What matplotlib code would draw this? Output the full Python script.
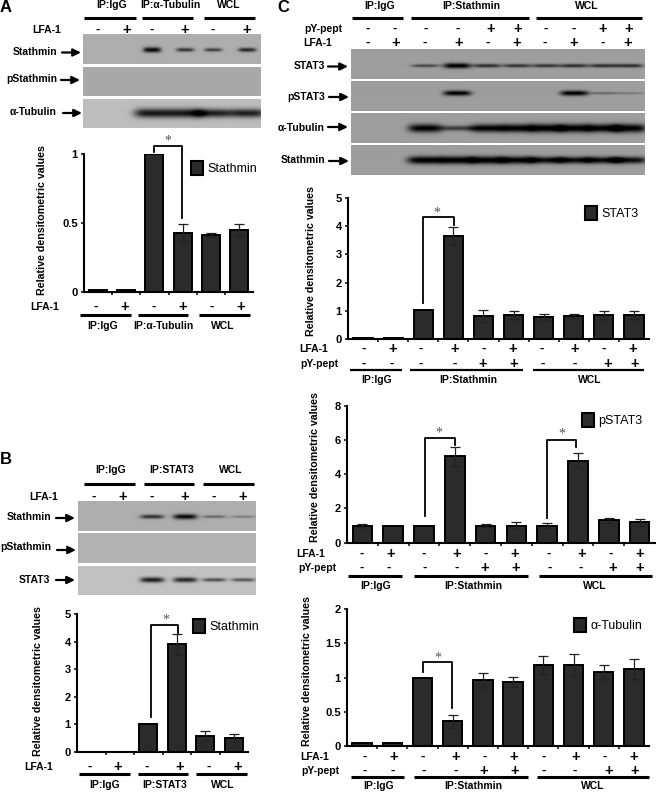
import numpy as np
import matplotlib
matplotlib.use('Agg')
import matplotlib.pyplot as plt
from matplotlib.patches import Patch

plt.rcParams['font.family'] = ['Liberation Sans', 'DejaVu Sans']

W, H = 656, 792

# bar values
a_vals = [0.01, 0.01, 1, 0.43, 0.41, 0.45]
a_errs = [0, 0, 0, 0.06, 0.015, 0.045]
b_vals = [0, 0, 1, 3.9, 0.58, 0.5]
b_errs = [0, 0, 0, 0.38, 0.17, 0.14]
c1_vals = [0.03, 0.03, 1.02, 3.65, 0.82, 0.85, 0.78, 0.82, 0.85, 0.85]
c1_errs = [0, 0, 0, 0.33, 0.2, 0.13, 0.12, 0.08, 0.13, 0.13]
c2_vals = [1, 1, 1, 5.05, 1, 1, 1, 4.8, 1.3, 1.2]
c2_errs = [0.1, 0, 0, 0.55, 0.1, 0.2, 0.17, 0.45, 0.15, 0.2]
c3_vals = [0.05, 0.05, 1, 0.36, 0.97, 0.94, 1.18, 1.19, 1.08, 1.13]
c3_errs = [0, 0, 0, 0.1, 0.1, 0.07, 0.13, 0.16, 0.1, 0.15]

# band strength per lane on the blots
a_stathmin = [0, 0, 1, 0.55, 0.45, 0.65]
a_pstathmin = [0, 0, 0, 0, 0, 0]
a_tubulin = [0, 0, 1, 1, 0.9, 0.9]
b_stathmin = [0, 0, 0.6, 1, 0.2, 0.1]
b_pstathmin = [0, 0, 0, 0, 0, 0]
b_stat3 = [0, 0, 1, 0.9, 0.5, 0.45]
c_stat3 = [0, 0, 0.3, 1, 0.5, 0.45, 0.45, 0.5, 0.5, 0.5]
c_pstat3 = [0, 0, 0, 0.95, 0, 0, 0, 0.95, 0.12, 0.06]
c_tubulin = [0, 0, 0.95, 0.35, 0.9, 0.95, 1, 1, 0.95, 1]
c_stathmin = [0, 0, 1, 1, 1, 0.95, 0.8, 0.8, 0.8, 0.8]

lfa_short = ['-', '+', '-', '+', '-', '+']
lfa_long = ['-', '+', '-', '+', '-', '+', '-', '+', '-', '+']
pep_long = ['-', '-', '-', '-', '+', '+', '-', '-', '+', '+']

fig = plt.figure(figsize=(W / 100, H / 100), dpi=100, facecolor='white')

# overlay in pixel coordinates for the labels around the charts
ov = fig.add_axes([0, 0, 1, 1], zorder=5)
ov.set_xlim(0, W)
ov.set_ylim(H, 0)
ov.axis('off')


def txt(x, y, s, ha='center', size=7.5, weight='bold', **kw):
    ov.text(x, y, s, ha=ha, va='center', fontsize=size, fontweight=weight, **kw)


def signs(xs, y, vals, scale=1 / 3, off=0):
    for x, v in zip(xs, vals):
        txt(x * scale + off, y, v, size=10.5 if v == '+' else 9.5)


def arrow(x0, x1, y):
    ov.annotate('', xy=(x1, y), xytext=(x0, y),
                arrowprops=dict(arrowstyle='-|>,head_width=0.22,head_length=0.45',
                                lw=1.6, color='black', shrinkA=0, shrinkB=0))


def rule(x0, x1, y, lw=2.2):
    ov.plot([x0, x1], [y, y], color='black', lw=lw, solid_capstyle='butt')


def bracket(x0, y0, y1, x1, y2, sx, sy):
    ov.plot([x0, x0, x1, x1], [y0, y1, y1, y2], color='black', lw=1.3)
    ov.text(sx, sy, '*', ha='center', va='center', fontsize=10,
            family='Liberation Serif', color='#555555')


def blot(x0, x1, y0, y1, lanes, vals, bg=0.68, bw=9.0, bh=2.6, yc=0.5):
    xx = np.arange(x0, x1, 0.5)
    yy = np.arange(y0, y1, 0.5)
    img = np.full((len(yy), len(xx)), bg)
    for lane, v in zip(lanes, vals):
        if v == 0:
            continue
        gx = np.exp(-(np.abs(xx - lane) / bw) ** 4)
        gy = np.exp(-((yy - (y0 + yc * (y1 - y0))) / (bh * (0.4 + 0.6 * v))) ** 2)
        img -= np.sqrt(v) * 0.66 * np.outer(gy, gx)
    ov.imshow(np.clip(img, 0, 1), cmap='gray', vmin=0, vmax=1, aspect='auto',
              extent=[x0, x1, y1, y0], interpolation='bilinear')


def chart(x0, x1, y0, y1, vals, errs, ymax, ticks, ticklabs, name, leg_x, leg_y, lab_x, lab_y):
    ax = fig.add_axes([x0 / W, 1 - y0 / H, (x1 - x0) / W, (y0 - y1) / H], zorder=3)
    pos = np.arange(len(vals))
    ax.bar(pos, vals, width=0.64, color='#2b2b2b', edgecolor='black', linewidth=1.4)
    ax.errorbar(pos, vals, yerr=[e if e else np.nan for e in errs], fmt='none',
                ecolor='#222222', elinewidth=0.9, capsize=3.5, capthick=0.9)
    ax.set_xlim(-0.5, len(vals) - 0.5)
    ax.set_ylim(0, ymax)
    ax.set_xticks(pos[:-1] + 0.5)
    ax.set_xticklabels([])
    ax.set_yticks(ticks)
    ax.set_yticklabels(ticklabs, fontsize=8, fontweight='bold')
    ax.tick_params(axis='both', length=2.5, width=1.1, pad=2)
    ax.patch.set_alpha(0)
    for s in ['top', 'right']:
        ax.spines[s].set_visible(False)
    for s in ['left', 'bottom']:
        ax.spines[s].set_linewidth(1.5)
    ax.set_ylabel('Relative densitometric values', fontsize=7.7, fontweight='bold')
    ax.yaxis.set_label_coords(lab_x, lab_y, transform=ov.transData)
    ax.legend(handles=[Patch(facecolor='#2b2b2b', edgecolor='black', linewidth=1.5, label=name)],
              loc='center left', bbox_to_anchor=(leg_x, leg_y), bbox_transform=ov.transData,
              frameon=False, fontsize=9, handlelength=0.95, handleheight=1.4,
              handletextpad=0.35, borderpad=0, borderaxespad=0)
    return ax


# Panel A
txt(0, 7, 'A', ha='left', size=12)
txt(112, 5, 'IP:IgG')
txt(170, 5, 'IP:α-Tubulin')
txt(229, 5, 'WCL')
rule(84, 136, 17.5)
rule(142, 193, 17.5)
rule(204, 255, 17.5)
txt(61, 30, 'LFA-1', ha='right')
a_lanes = [98, 127, 152, 185, 213, 247]
signs(a_lanes, 30, lfa_short, scale=1)
blot(83, 261, 35, 64.5, a_lanes, a_stathmin, yc=0.52)
blot(83, 261, 67, 96, a_lanes, a_pstathmin, bg=0.66)
blot(83, 261, 99, 128, a_lanes, a_tubulin, bw=18, bh=4.6, yc=0.48, bg=0.74)
txt(57, 52, 'Stathmin', ha='right')
arrow(62, 81, 52.5)
txt(57, 79, 'pStathmin', ha='right')
arrow(61, 80, 80)
txt(57, 112, 'α-Tubulin', ha='right')
arrow(63, 82, 113)
chart(84, 253, 291.7, 154.3, a_vals, a_errs, 1, [0, 0.5, 1], ['0', '0.5', '1'],
      'Stathmin', 191, 168, 47, 220)
bracket(154, 152, 146, 182, 218, 168, 141)
txt(59, 307, 'LFA-1', ha='right')
signs([288, 375, 461, 548, 635, 722], 307, lfa_short)
rule(80, 131, 315)
rule(138, 188, 315)
rule(199, 250, 315)
txt(103, 326, 'IP:IgG')
txt(163, 326, 'IP:α-Tubulin')
txt(223, 326, 'WCL')

# Panel B
txt(0, 460, 'B', ha='left', size=12)
txt(111, 470, 'IP:IgG')
txt(172, 470, 'IP:STAT3')
txt(231, 470, 'WCL')
rule(84, 135, 484)
rule(144, 194, 484)
rule(203, 254, 484)
txt(58, 497, 'LFA-1', ha='right')
b_lanes = [94, 123, 152, 185, 214, 243]
signs(b_lanes, 497, lfa_short, scale=1)
blot(78, 256, 501, 530.7, b_lanes, b_stathmin, yc=0.52, bw=12)
blot(78, 256, 533, 563, b_lanes, b_pstathmin, bg=0.70)
blot(78, 256, 566, 595, b_lanes, b_stat3, yc=0.47, bw=12, bg=0.76)
txt(51, 517, 'Stathmin', ha='right')
arrow(56, 75, 518)
txt(51, 547, 'pStathmin', ha='right')
arrow(57, 76, 550)
txt(50, 580, 'STAT3', ha='right')
arrow(56, 75, 580)
chart(77, 248, 752, 614, b_vals, b_errs, 5, [0, 1, 2, 3, 4, 5], ['0', '1', '2', '3', '4', '5'],
      'Stathmin', 193, 626, 43, 681)
bracket(151, 717, 625, 178, 633, 166, 620)
txt(53, 767, 'LFA-1', ha='right')
signs([268, 353, 440, 540, 627, 714], 767, lfa_short)
rule(79, 130, 774)
rule(138, 188, 774)
rule(196, 247, 774)
txt(105, 785, 'IP:IgG')
txt(165, 785, 'IP:STAT3')
txt(223, 785, 'WCL')

# Panel C blots
txt(277, 7, 'C', ha='left', size=12)
txt(380, 6, 'IP:IgG')
txt(471, 6, 'IP:Stathmin')
txt(587, 6, 'WCL')
rule(352, 403, 18)
rule(411, 529, 18)
rule(536, 642, 18)
txt(342, 29, 'pY-pept', ha='right')
txt(332, 43, 'LFA-1', ha='right')
signs([232, 315, 407, 503, 603, 683, 768, 850, 937, 1015], 29, pep_long, off=290)
signs([232, 318, 405, 505, 592, 680, 765, 852, 937, 1013], 43, lfa_long, off=290)
c_lanes = [367, 395, 425, 457, 487, 517, 546, 574, 603, 629]
blot(351, 645, 49, 79, c_lanes, c_stat3, bg=0.62, bw=14, yc=0.55)
blot(351, 645, 81.7, 111, c_lanes, c_pstat3, bg=0.62, bw=14, yc=0.4)
blot(351, 645, 113, 143, c_lanes, c_tubulin, bg=0.62, bw=17, bh=4.2, yc=0.5)
blot(351, 645, 145.7, 175, c_lanes, c_stathmin, bg=0.62, bw=18, bh=3.8, yc=0.5)
txt(325, 66, 'STAT3', ha='right')
arrow(328, 348, 66.5)
txt(325, 97, 'pSTAT3', ha='right')
arrow(329, 349, 97)
txt(325, 128, 'α-Tubulin', ha='right')
arrow(328, 348, 127)
txt(325, 160, 'Stathmin', ha='right')
arrow(329, 349, 161)

# Panel C charts
chart(348, 649, 339, 198, c1_vals, c1_errs, 5, [0, 1, 2, 3, 4, 5], ['0', '1', '2', '3', '4', '5'],
      'STAT3', 585, 213, 316, 261)
bracket(423, 303, 217, 454, 225, 437, 213)
txt(328, 349, 'LFA-1', ha='right')
txt(338, 364, 'pY-pept', ha='right')
signs([222, 308, 393, 493, 580, 668, 755, 855, 940, 1027], 349, lfa_long, off=290)
signs([222, 305, 393, 493, 578, 670, 757, 855, 952, 1033], 364, pep_long, off=290)
rule(350, 402, 370, lw=1.6)
rule(410, 523, 370, lw=1.6)
rule(533, 644, 370, lw=1.6)
txt(377, 380, 'IP:IgG')
txt(468, 380, 'IP:Stathmin')
txt(590, 380, 'WCL')

chart(347, 655, 542.7, 405.7, c2_vals, c2_errs, 8, [0, 2, 4, 6, 8], ['0', '2', '4', '6', '8'],
      'pSTAT3', 582, 420, 320, 467)
bracket(425, 516, 438, 455, 445, 439, 433)
bracket(547, 518, 440, 576, 447, 562, 434)
txt(325, 554, 'LFA-1', ha='right')
txt(336, 568, 'pY-pept', ha='right')
signs([216, 303, 400, 500, 588, 675, 775, 875, 962, 1048], 554, lfa_long, off=290)
signs([216, 297, 403, 500, 585, 678, 778, 872, 968, 1050], 568, pep_long, off=290)
rule(348, 402, 576)
rule(414, 528, 576)
rule(539, 652, 576)
txt(376, 586, 'IP:IgG')
txt(473, 586, 'IP:Stathmin')
txt(595, 586, 'WCL')

chart(347, 649, 746, 609.3, c3_vals, c3_errs, 2, [0, 0.5, 1, 1.5, 2], ['0', '0.5', '1', '1.5', '2'],
      'α-Tubulin', 574, 625, 312, 671)
bracket(423, 672, 662, 452, 708, 438, 658)
txt(329, 757, 'LFA-1', ha='right')
txt(339, 771, 'pY-pept', ha='right')
signs([225, 310, 398, 497, 585, 672, 760, 858, 945, 1032], 757, lfa_long, off=290)
signs([225, 307, 400, 497, 582, 675, 762, 855, 957, 1035], 771, pep_long, off=290)
rule(351, 404, 777)
rule(414, 528, 777)
rule(537, 649, 777)
txt(379, 786, 'IP:IgG')
txt(473, 786, 'IP:Stathmin')
txt(593, 786, 'WCL')

ov.set_xlim(0, W)
ov.set_ylim(H, 0)
fig.savefig('out.png', dpi=100)
